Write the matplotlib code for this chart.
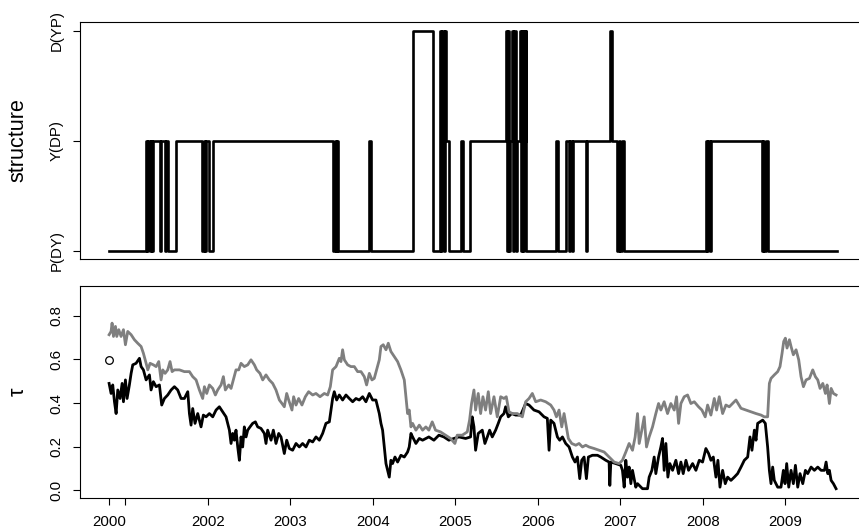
import matplotlib
matplotlib.use("Agg")
import matplotlib.pyplot as plt

plt.rcParams['font.family'] = ['Liberation Sans', 'DejaVu Sans']

# dependence structure regime: (switch time, level) 0 = P(DY), 1 = Y(DP), 2 = D(YP)
struct_switches = [
    (2000.802, 0), (2001.251, 1), (2001.267, 0), (2001.279, 1), (2001.297, 0),
    (2001.309, 1), (2001.320, 0), (2001.331, 1),
    (2001.416, 0), (2001.437, 1), (2001.477, 0), (2001.489, 1), (2001.513, 0),
    (2001.615, 1),
    (2001.926, 0), (2001.947, 1), (2001.965, 0), (2001.983, 1), (2002.019, 0),
    (2002.068, 1),
    (2003.516, 0), (2003.536, 1), (2003.555, 0), (2003.564, 1), (2003.576, 0),
    (2003.955, 1), (2003.979, 0),
    (2004.487, 2), (2004.729, 0), (2004.811, 2), (2004.829, 0), (2004.841, 2),
    (2004.859, 0), (2004.871, 2), (2004.892, 1), (2004.924, 0),
    (2005.074, 1), (2005.090, 0), (2005.175, 1),
    (2005.620, 2), (2005.632, 0), (2005.645, 2), (2005.657, 0), (2005.669, 1),
    (2005.689, 2), (2005.703, 0), (2005.717, 2), (2005.731, 0), (2005.745, 1),
    (2005.782, 2), (2005.796, 0), (2005.810, 2), (2005.824, 0), (2005.838, 2),
    (2005.850, 1), (2005.856, 2), (2005.863, 0),
    (2006.227, 1), (2006.243, 0), (2006.348, 1), (2006.376, 0), (2006.388, 1),
    (2006.419, 0), (2006.428, 1), (2006.583, 0), (2006.595, 1),
    (2006.874, 2), (2006.898, 1), (2006.962, 0), (2006.983, 1), (2007.001, 0),
    (2007.019, 1), (2007.044, 0),
    (2008.039, 1), (2008.057, 0), (2008.069, 1), (2008.087, 0), (2008.105, 1),
    (2008.715, 0), (2008.731, 1), (2008.749, 0), (2008.767, 1), (2008.791, 0),
    (2009.629, 0),
]
struct_labels = ["P(DY)", "Y(DP)", "D(YP)"]

# Kendall's tau estimates
tau_black = [
    (2000.802, 0.490), (2000.826, 0.444), (2000.846, 0.483), (2000.867, 0.406),
    (2000.887, 0.352), (2000.907, 0.460), (2000.935, 0.421), (2000.960, 0.490),
    (2000.976, 0.406), (2001.000, 0.506), (2001.020, 0.421), (2001.048, 0.483),
    (2001.069, 0.536), (2001.089, 0.575), (2001.129, 0.582), (2001.170, 0.605),
    (2001.190, 0.567), (2001.218, 0.552), (2001.251, 0.506), (2001.291, 0.529),
    (2001.311, 0.460), (2001.339, 0.498), (2001.372, 0.475), (2001.412, 0.483),
    (2001.440, 0.391), (2001.473, 0.421), (2001.513, 0.437), (2001.554, 0.460),
    (2001.594, 0.475), (2001.634, 0.460), (2001.675, 0.421), (2001.715, 0.421),
    (2001.756, 0.452), (2001.776, 0.352), (2001.796, 0.299), (2001.816, 0.375),
    (2001.844, 0.307), (2001.877, 0.352), (2001.917, 0.291), (2001.945, 0.345),
    (2001.978, 0.337), (2002.018, 0.352), (2002.059, 0.337), (2002.099, 0.368),
    (2002.139, 0.383), (2002.180, 0.360), (2002.220, 0.337), (2002.261, 0.276),
    (2002.281, 0.215), (2002.301, 0.261), (2002.321, 0.230), (2002.341, 0.276),
    (2002.362, 0.199), (2002.382, 0.138), (2002.402, 0.245), (2002.422, 0.199),
    (2002.442, 0.291), (2002.463, 0.245), (2002.483, 0.276), (2002.511, 0.291),
    (2002.543, 0.307), (2002.576, 0.314), (2002.604, 0.291), (2002.644, 0.284),
    (2002.685, 0.261), (2002.705, 0.215), (2002.725, 0.276), (2002.766, 0.230),
    (2002.794, 0.276), (2002.826, 0.215), (2002.859, 0.261), (2002.887, 0.245),
    (2002.927, 0.169), (2002.956, 0.230), (2002.988, 0.192), (2003.028, 0.184),
    (2003.069, 0.215), (2003.109, 0.199), (2003.149, 0.215), (2003.190, 0.199),
    (2003.230, 0.230), (2003.271, 0.222), (2003.311, 0.245), (2003.352, 0.230),
    (2003.392, 0.261), (2003.432, 0.307), (2003.473, 0.314), (2003.493, 0.368),
    (2003.513, 0.421), (2003.533, 0.452), (2003.562, 0.414), (2003.594, 0.437),
    (2003.634, 0.414), (2003.675, 0.437), (2003.715, 0.421), (2003.756, 0.406),
    (2003.796, 0.421), (2003.836, 0.414), (2003.877, 0.429), (2003.917, 0.406),
    (2003.958, 0.444), (2003.998, 0.414), (2004.038, 0.414), (2004.079, 0.352),
    (2004.099, 0.307), (2004.119, 0.276), (2004.139, 0.199), (2004.160, 0.123),
    (2004.180, 0.092), (2004.200, 0.061), (2004.220, 0.138), (2004.240, 0.123),
    (2004.269, 0.153), (2004.301, 0.130), (2004.341, 0.161), (2004.382, 0.153),
    (2004.422, 0.176), (2004.442, 0.199), (2004.463, 0.261), (2004.483, 0.245),
    (2004.523, 0.215), (2004.564, 0.238), (2004.604, 0.230), (2004.644, 0.238),
    (2004.680, 0.245), (2004.741, 0.230), (2004.802, 0.253), (2004.862, 0.245),
    (2004.923, 0.230), (2004.984, 0.238), (2005.045, 0.245), (2005.126, 0.238),
    (2005.186, 0.245), (2005.206, 0.337), (2005.227, 0.291), (2005.247, 0.184),
    (2005.279, 0.261), (2005.328, 0.276), (2005.360, 0.215), (2005.389, 0.245),
    (2005.417, 0.276), (2005.449, 0.245), (2005.490, 0.276), (2005.522, 0.307),
    (2005.551, 0.337), (2005.591, 0.352), (2005.611, 0.383), (2005.644, 0.337),
    (2005.684, 0.352), (2005.733, 0.345), (2005.794, 0.345), (2005.854, 0.398),
    (2005.895, 0.391), (2005.955, 0.368), (2006.016, 0.360), (2006.077, 0.337),
    (2006.117, 0.330), (2006.138, 0.184), (2006.158, 0.322), (2006.198, 0.307),
    (2006.239, 0.245), (2006.267, 0.230), (2006.300, 0.245), (2006.340, 0.215),
    (2006.381, 0.199), (2006.421, 0.153), (2006.453, 0.130), (2006.482, 0.153),
    (2006.510, 0.054), (2006.534, 0.138), (2006.563, 0.153), (2006.591, 0.054),
    (2006.615, 0.153), (2006.664, 0.161), (2006.725, 0.161), (2006.765, 0.153),
    (2006.826, 0.138), (2006.866, 0.130), (2006.875, 0.023), (2006.887, 0.130),
    (2006.947, 0.123), (2007.008, 0.115), (2007.028, 0.092), (2007.049, 0.015),
    (2007.069, 0.138), (2007.089, 0.061), (2007.109, 0.107), (2007.130, 0.031),
    (2007.150, 0.092), (2007.190, 0.015), (2007.211, 0.031), (2007.271, 0.008),
    (2007.332, 0.008), (2007.352, 0.061), (2007.385, 0.092), (2007.413, 0.153),
    (2007.433, 0.077), (2007.466, 0.153), (2007.494, 0.199), (2007.514, 0.238),
    (2007.534, 0.092), (2007.555, 0.215), (2007.579, 0.061), (2007.603, 0.123),
    (2007.636, 0.092), (2007.676, 0.138), (2007.709, 0.077), (2007.737, 0.130),
    (2007.765, 0.077), (2007.798, 0.138), (2007.830, 0.092), (2007.879, 0.123),
    (2007.919, 0.092), (2007.960, 0.138), (2008.000, 0.130), (2008.040, 0.192),
    (2008.073, 0.169), (2008.101, 0.138), (2008.130, 0.153), (2008.162, 0.061),
    (2008.186, 0.138), (2008.211, 0.015), (2008.243, 0.092), (2008.275, 0.031),
    (2008.304, 0.061), (2008.344, 0.046), (2008.385, 0.061), (2008.425, 0.077),
    (2008.466, 0.107), (2008.506, 0.138), (2008.547, 0.153), (2008.575, 0.245),
    (2008.599, 0.184), (2008.628, 0.276), (2008.648, 0.230), (2008.668, 0.307),
    (2008.696, 0.314), (2008.729, 0.322), (2008.761, 0.307), (2008.789, 0.199),
    (2008.810, 0.092), (2008.830, 0.031), (2008.850, 0.107), (2008.870, 0.046),
    (2008.911, 0.015), (2008.951, 0.015), (2008.980, 0.092), (2009.000, 0.031),
    (2009.020, 0.123), (2009.045, 0.015), (2009.073, 0.092), (2009.101, 0.031),
    (2009.126, 0.115), (2009.154, 0.015), (2009.182, 0.077), (2009.215, 0.031),
    (2009.247, 0.092), (2009.275, 0.077), (2009.316, 0.107), (2009.356, 0.092),
    (2009.397, 0.107), (2009.437, 0.092), (2009.478, 0.092), (2009.498, 0.130),
    (2009.518, 0.077), (2009.538, 0.092), (2009.559, 0.046), (2009.587, 0.031),
    (2009.619, 0.008),
]

tau_gray = [
    (2000.802, 0.713), (2000.826, 0.728), (2000.838, 0.766), (2000.855, 0.705),
    (2000.879, 0.751), (2000.895, 0.705), (2000.919, 0.736), (2000.947, 0.705),
    (2000.976, 0.736), (2001.000, 0.667), (2001.028, 0.728), (2001.069, 0.713),
    (2001.109, 0.690), (2001.149, 0.674), (2001.190, 0.659), (2001.218, 0.628),
    (2001.251, 0.582), (2001.271, 0.552), (2001.299, 0.582), (2001.339, 0.575),
    (2001.372, 0.567), (2001.404, 0.590), (2001.432, 0.506), (2001.453, 0.552),
    (2001.481, 0.536), (2001.513, 0.552), (2001.541, 0.590), (2001.566, 0.544),
    (2001.594, 0.552), (2001.655, 0.552), (2001.715, 0.544), (2001.776, 0.544),
    (2001.816, 0.521), (2001.857, 0.506), (2001.897, 0.460), (2001.937, 0.421),
    (2001.958, 0.475), (2001.986, 0.444), (2002.018, 0.483), (2002.059, 0.467),
    (2002.091, 0.437), (2002.119, 0.460), (2002.160, 0.483), (2002.188, 0.521),
    (2002.212, 0.460), (2002.253, 0.483), (2002.281, 0.467), (2002.309, 0.506),
    (2002.341, 0.552), (2002.374, 0.552), (2002.402, 0.582), (2002.442, 0.567),
    (2002.483, 0.575), (2002.523, 0.598), (2002.564, 0.575), (2002.592, 0.552),
    (2002.632, 0.536), (2002.665, 0.506), (2002.705, 0.529), (2002.745, 0.506),
    (2002.786, 0.490), (2002.826, 0.460), (2002.867, 0.414), (2002.899, 0.398),
    (2002.927, 0.383), (2002.956, 0.444), (2002.980, 0.414), (2003.020, 0.368),
    (2003.040, 0.429), (2003.069, 0.391), (2003.101, 0.421), (2003.141, 0.391),
    (2003.182, 0.429), (2003.222, 0.452), (2003.271, 0.437), (2003.311, 0.444),
    (2003.360, 0.429), (2003.412, 0.444), (2003.453, 0.437), (2003.485, 0.475),
    (2003.513, 0.552), (2003.554, 0.567), (2003.594, 0.605), (2003.614, 0.590),
    (2003.634, 0.644), (2003.655, 0.598), (2003.695, 0.575), (2003.735, 0.567),
    (2003.776, 0.567), (2003.816, 0.544), (2003.857, 0.544), (2003.897, 0.521),
    (2003.925, 0.483), (2003.958, 0.536), (2003.990, 0.506), (2004.018, 0.513),
    (2004.046, 0.552), (2004.079, 0.598), (2004.099, 0.659), (2004.127, 0.667),
    (2004.160, 0.644), (2004.188, 0.674), (2004.220, 0.636), (2004.261, 0.613),
    (2004.301, 0.590), (2004.341, 0.552), (2004.382, 0.506), (2004.402, 0.429),
    (2004.422, 0.352), (2004.442, 0.368), (2004.463, 0.291), (2004.483, 0.307),
    (2004.523, 0.276), (2004.564, 0.299), (2004.604, 0.276), (2004.644, 0.291),
    (2004.680, 0.276), (2004.721, 0.314), (2004.761, 0.276), (2004.822, 0.268),
    (2004.883, 0.253), (2004.943, 0.238), (2004.996, 0.215), (2005.024, 0.253),
    (2005.085, 0.253), (2005.146, 0.268), (2005.174, 0.322), (2005.198, 0.398),
    (2005.227, 0.460), (2005.247, 0.368), (2005.279, 0.444), (2005.308, 0.352),
    (2005.336, 0.429), (2005.368, 0.368), (2005.401, 0.452), (2005.429, 0.352),
    (2005.470, 0.429), (2005.510, 0.337), (2005.551, 0.429), (2005.591, 0.421),
    (2005.619, 0.429), (2005.652, 0.360), (2005.692, 0.352), (2005.753, 0.352),
    (2005.814, 0.337), (2005.854, 0.406), (2005.895, 0.421), (2005.935, 0.444),
    (2005.976, 0.406), (2006.036, 0.414), (2006.097, 0.406), (2006.158, 0.391),
    (2006.198, 0.368), (2006.227, 0.337), (2006.259, 0.368), (2006.292, 0.291),
    (2006.320, 0.352), (2006.348, 0.291), (2006.372, 0.238), (2006.413, 0.215),
    (2006.462, 0.207), (2006.502, 0.215), (2006.543, 0.199), (2006.583, 0.207),
    (2006.623, 0.199), (2006.684, 0.192), (2006.745, 0.184), (2006.806, 0.176),
    (2006.866, 0.153), (2006.927, 0.130), (2006.988, 0.123), (2007.028, 0.138),
    (2007.069, 0.176), (2007.109, 0.215), (2007.150, 0.184), (2007.182, 0.245),
    (2007.211, 0.352), (2007.231, 0.215), (2007.263, 0.276), (2007.292, 0.337),
    (2007.320, 0.199), (2007.352, 0.245), (2007.393, 0.291), (2007.433, 0.352),
    (2007.466, 0.398), (2007.494, 0.368), (2007.534, 0.406), (2007.575, 0.352),
    (2007.615, 0.398), (2007.656, 0.368), (2007.684, 0.429), (2007.709, 0.307),
    (2007.737, 0.398), (2007.777, 0.429), (2007.818, 0.437), (2007.858, 0.398),
    (2007.899, 0.406), (2007.951, 0.383), (2007.992, 0.368), (2008.032, 0.337),
    (2008.061, 0.391), (2008.101, 0.345), (2008.142, 0.421), (2008.170, 0.368),
    (2008.202, 0.429), (2008.243, 0.352), (2008.283, 0.391), (2008.324, 0.383),
    (2008.364, 0.398), (2008.405, 0.414), (2008.466, 0.376), (2008.526, 0.368),
    (2008.587, 0.360), (2008.648, 0.352), (2008.709, 0.345), (2008.749, 0.337),
    (2008.789, 0.337), (2008.810, 0.490), (2008.830, 0.513), (2008.870, 0.529),
    (2008.911, 0.544), (2008.939, 0.567), (2008.964, 0.628), (2008.984, 0.682),
    (2009.004, 0.697), (2009.024, 0.652), (2009.053, 0.690), (2009.073, 0.659),
    (2009.101, 0.621), (2009.134, 0.644), (2009.166, 0.598), (2009.194, 0.521),
    (2009.223, 0.475), (2009.255, 0.506), (2009.296, 0.513), (2009.336, 0.552),
    (2009.368, 0.521), (2009.397, 0.506), (2009.425, 0.467), (2009.458, 0.490),
    (2009.490, 0.444), (2009.510, 0.483), (2009.538, 0.398), (2009.559, 0.467),
    (2009.587, 0.444), (2009.619, 0.437),
]

# single starting value shown as an open circle
tau_start = (2000.802, 0.595)

xtick_pos = [2000.802, 2001, 2002, 2003, 2004, 2005, 2006, 2007, 2008, 2009]
xtick_lab = ["2000", "", "2002", "2003", "2004", "2005", "2006", "2007", "2008", "2009"]
ytick_tau = [0.0, 0.2, 0.4, 0.6, 0.8]

W, H = 859, 531
fig = plt.figure(figsize=(W / 100, H / 100), dpi=100)
ax1 = fig.add_axes([80 / W, 1 - 259.3 / H, 786 / W, 237.6 / H])
ax2 = fig.add_axes([80 / W, 1 - 498.3 / H, 786 / W, 212.3 / H])

xlim = (2000.449, 2009.982)
tick_kw = dict(direction='out', length=5, width=0.8, labelsize=10.8, pad=7)

# top panel: structure as a step function
st_t = [t for t, _ in struct_switches]
st_l = [l for _, l in struct_switches]
ax1.step(st_t, st_l, where='post', color='black', lw=1.9)
ax1.set_xlim(*xlim)
ax1.set_ylim(-0.08, 2.08)
ax1.set_xticks([])
ax1.set_yticks([0, 1, 2])
ax1.set_yticklabels(struct_labels)
ax1.tick_params(axis='y', **tick_kw)
ax1.set_ylabel("structure", fontsize=15.5)

# bottom panel: tau series
ax2.plot([t for t, _ in tau_black], [v for _, v in tau_black], color='black', lw=2.0)
ax2.plot([t for t, _ in tau_gray], [v for _, v in tau_gray], color='#7f7f7f', lw=2.0)
ax2.plot([tau_start[0]], [tau_start[1]], 'o', mfc='none', mec='black', ms=5.5, mew=0.9)
ax2.set_xlim(*xlim)
ax2.set_ylim(-0.036, 0.936)
ax2.set_xticks(xtick_pos)
ax2.set_xticklabels(xtick_lab)
ax2.set_yticks(ytick_tau)
ax2.set_yticklabels([f"{v:.1f}" for v in ytick_tau])
ax2.tick_params(axis='both', **tick_kw)
ax2.set_ylabel("τ", fontsize=15.5)

for ax in (ax1, ax2):
    for s in ax.spines.values():
        s.set_linewidth(0.8)
    for lab in ax.get_yticklabels():
        lab.set_rotation(90)
        lab.set_rotation_mode('default')
        lab.set_ha('right')
        lab.set_va('center')
    ax.yaxis.label.set_va('center')
    ax.yaxis.set_label_coords(-62 / 786, 0.5)

fig.savefig("out.png", dpi=100)
